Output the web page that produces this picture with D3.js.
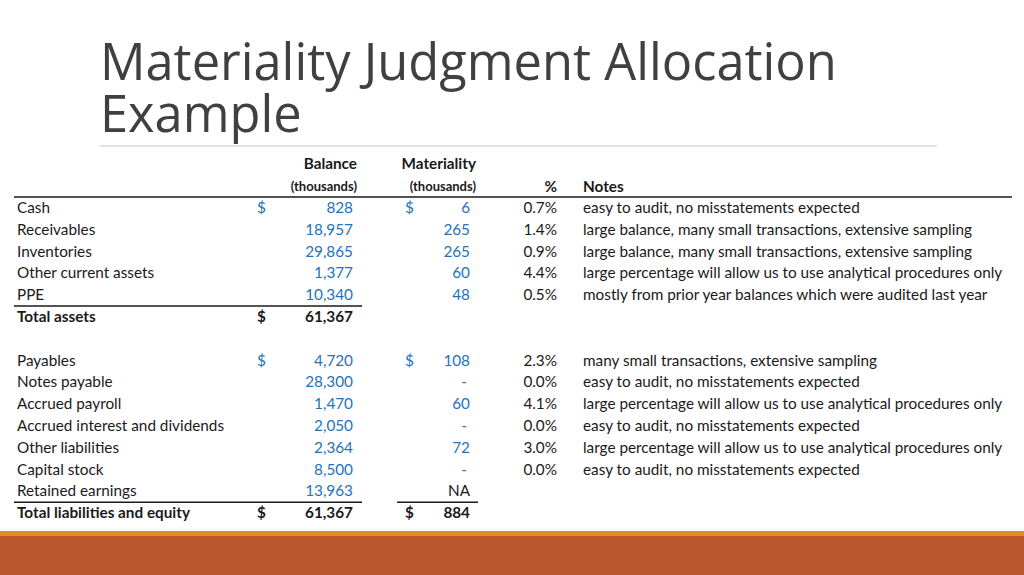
<!DOCTYPE html>
<html><head><meta charset="utf-8">
<script src="https://cdn.jsdelivr.net/npm/d3@7"></script>
<style>body{margin:0;background:#fff}svg{display:block}</style>
</head><body>
<div id="chart"></div>
<script>
const labels = ["Cash","Receivables","Inventories","Other current assets","PPE","Total assets","",
  "Payables","Notes payable","Accrued payroll","Accrued interest and dividends","Other liabilities",
  "Capital stock","Retained earnings","Total liabilities and equity"];
const balances = [828,18957,29865,1377,10340,61367,null,4720,28300,1470,2050,2364,8500,13963,61367];
const materiality = ["6","265","265","60","48","","","108","-","60","-","72","-","NA","884"];
const pcts = ["0.7%","1.4%","0.9%","4.4%","0.5%","","","2.3%","0.0%","4.1%","0.0%","3.0%","0.0%","",""];
const notes = ["easy to audit, no misstatements expected",
  "large balance, many small transactions, extensive sampling",
  "large balance, many small transactions, extensive sampling",
  "large percentage will allow us to use analytical procedures only",
  "mostly from prior year balances which were audited last year","","",
  "many small transactions, extensive sampling",
  "easy to audit, no misstatements expected",
  "large percentage will allow us to use analytical procedures only",
  "easy to audit, no misstatements expected",
  "large percentage will allow us to use analytical procedures only",
  "easy to audit, no misstatements expected","",""];
const totalRows = [5, 14];
const balDollarRows = [0, 5, 7, 14];
const matDollarRows = [0, 7, 14];

const W = 1024, H = 575;
const blue = "#2473BD", dark = "#1a1a1a";
const svg = d3.select("#chart").append("svg").attr("width", W).attr("height", H)
  .style("font-family", "Lato, 'Open Sans', sans-serif");

// title
svg.append("text").attr("x", 100).attr("y", 80).attr("fill", "#404040")
  .style("font-family", "'Open Sans', sans-serif").style("font-size", "50.6px").text("Materiality Judgment Allocation");
svg.append("text").attr("x", 100).attr("y", 132).attr("fill", "#404040")
  .style("font-family", "'Open Sans', sans-serif").style("font-size", "50.6px").text("Example");
svg.append("line").attr("x1", 100).attr("x2", 937).attr("y1", 146).attr("y2", 146)
  .attr("stroke", "#d9d9d9").attr("stroke-width", 1.5);

// footer
svg.append("rect").attr("x", 0).attr("y", 531).attr("width", W).attr("height", 6).attr("fill", "#E18B22");
svg.append("rect").attr("x", 0).attr("y", 536).attr("width", W).attr("height", 39).attr("fill", "#BC582E");

const y = d3.scaleBand().domain(d3.range(labels.length)).range([197, 524]);
const base = i => y(i) + y.bandwidth() / 2 + 5;
const fmt = d3.format(",");

// headers
const hdr = svg.append("g").style("font-weight", "bold").attr("fill", dark);
hdr.append("text").attr("x", 357).attr("y", 169).attr("text-anchor", "end").style("font-size", "15.3px").text("Balance");
hdr.append("text").attr("x", 476).attr("y", 169).attr("text-anchor", "end").style("font-size", "15.3px").text("Materiality");
hdr.append("text").attr("x", 357).attr("y", 191).attr("text-anchor", "end").style("font-size", "13px").text("(thousands)");
hdr.append("text").attr("x", 476).attr("y", 191).attr("text-anchor", "end").style("font-size", "13px").text("(thousands)");
hdr.append("text").attr("x", 557).attr("y", 192).attr("text-anchor", "end").style("font-size", "15.3px").text("%");
hdr.append("text").attr("x", 583).attr("y", 192).style("font-size", "15.3px").text("Notes");
svg.append("line").attr("x1", 14).attr("x2", 1012).attr("y1", 197).attr("y2", 197).attr("stroke", dark).attr("stroke-width", 1.5);

const rows = svg.append("g").selectAll("g").data(labels).join("g")
  .style("font-size", "15.3px")
  .style("font-weight", (d, i) => totalRows.includes(i) ? "bold" : "normal");

rows.append("text").attr("x", 17).attr("y", (d, i) => base(i)).attr("fill", dark).text(d => d);
rows.append("text").attr("x", 257).attr("y", (d, i) => base(i))
  .attr("fill", (d, i) => totalRows.includes(i) ? dark : blue)
  .text((d, i) => balDollarRows.includes(i) ? "$" : "");
rows.append("text").attr("x", 353).attr("y", (d, i) => base(i)).attr("text-anchor", "end")
  .attr("fill", (d, i) => totalRows.includes(i) ? dark : blue)
  .text((d, i) => balances[i] == null ? "" : fmt(balances[i]));
rows.append("text").attr("x", 405).attr("y", (d, i) => base(i))
  .attr("fill", (d, i) => totalRows.includes(i) ? dark : blue)
  .text((d, i) => matDollarRows.includes(i) ? "$" : "");
rows.append("text").attr("x", (d, i) => materiality[i] === "-" ? 467 : 470).attr("y", (d, i) => base(i)).attr("text-anchor", "end")
  .attr("fill", (d, i) => (totalRows.includes(i) || materiality[i] === "NA") ? dark : blue)
  .text((d, i) => materiality[i]);
rows.append("text").attr("x", 557).attr("y", (d, i) => base(i)).attr("text-anchor", "end").attr("fill", dark).text((d, i) => pcts[i]);
rows.append("text").attr("x", 583).attr("y", (d, i) => base(i)).attr("fill", dark).text((d, i) => notes[i]);

// total rules
svg.append("line").attr("x1", 14).attr("x2", 362).attr("y1", y(5)).attr("y2", y(5)).attr("stroke", dark).attr("stroke-width", 1.5);
svg.append("line").attr("x1", 14).attr("x2", 362).attr("y1", y(14)).attr("y2", y(14)).attr("stroke", dark).attr("stroke-width", 1.5);
svg.append("line").attr("x1", 397).attr("x2", 478).attr("y1", y(14)).attr("y2", y(14)).attr("stroke", dark).attr("stroke-width", 1.5);
</script>
</body></html>
